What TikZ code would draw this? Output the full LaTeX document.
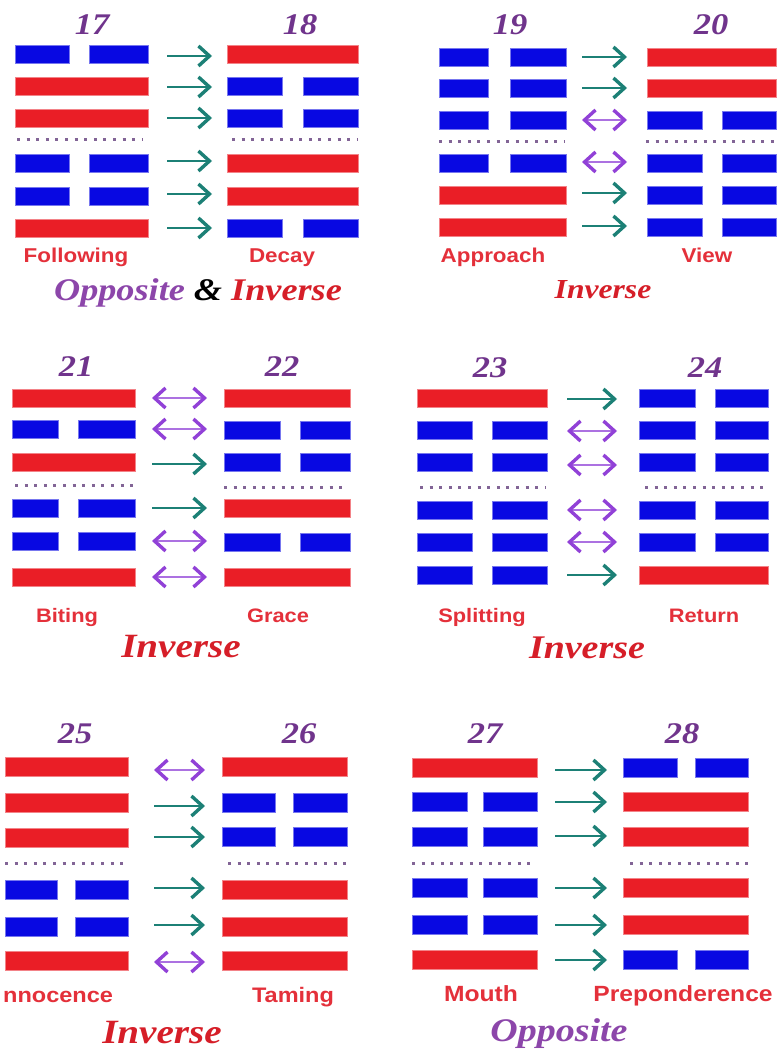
\documentclass[tikz,border=0pt]{standalone}
\usepackage{fontspec}
\setmainfont{Liberation Serif}
\newfontfamily\numfont[FakeStretch=1.15]{Liberation Serif}
\newfontfamily\lblfont[FakeStretch=1.12]{Liberation Sans}
\usetikzlibrary{arrows.meta}
\definecolor{redc}{RGB}{234,30,38}
\definecolor{bluec}{RGB}{8,8,226}
\definecolor{tealc}{RGB}{28,128,118}
\definecolor{purc}{RGB}{145,65,215}
\definecolor{numc}{RGB}{112,52,140}
\definecolor{oppc}{RGB}{140,70,170}
\definecolor{invc}{RGB}{214,30,40}
\definecolor{lblc}{RGB}{228,48,58}
\definecolor{dotc}{RGB}{130,100,150}
\tikzset{
  yangbar/.style={fill=redc, draw=redc!55!white, line width=0.8pt},
  yinbar/.style={fill=bluec, draw=bluec!55!white, line width=0.8pt},
  tarr/.style={draw=tealc, line width=2.8pt, -{Straight Barb[length=11pt,width=20pt,line width=3.4pt]}},
  parr/.style={draw=purc!75!white, line width=2.4pt, {Straight Barb[length=11pt,width=20pt,line width=3.4pt,color=purc]}-{Straight Barb[length=11pt,width=20pt,line width=3.4pt,color=purc]}},
  dotl/.style={draw=dotc, line width=3pt, dash pattern=on 3pt off 6.6pt},
  num/.style={font=\numfont\bfseries\itshape\fontsize{30}{36}\selectfont, text=numc, anchor=base, inner sep=0pt},
  lbl/.style={font=\lblfont\bfseries\fontsize{#1}{#1}\selectfont, text=lblc, anchor=base, inner sep=0pt},
  lbl/.default=20,
  ttl/.style={font=\numfont\bfseries\itshape\fontsize{#1}{#1}\selectfont, anchor=base, inner sep=0pt},
}
% #1 x-left, #2 gap-left, #3 gap-right, #4 x-right, #5 thickness, #6 list type/y
\newcommand\hexaG[6]{%
  \foreach \hk/\hy in {#6}{%
    \ifnum\hk=1
      \filldraw[yangbar] (#1,\hy-#5/2) rectangle (#4,\hy+#5/2);
    \else
      \filldraw[yinbar] (#1,\hy-#5/2) rectangle (#2,\hy+#5/2);
      \filldraw[yinbar] (#3,\hy-#5/2) rectangle (#4,\hy+#5/2);
    \fi}}
\newcommand\arrowsG[3]{%
  \foreach \hk/\hy in {#3}{%
    \ifnum\hk=1
      \draw[tarr] (#1,\hy) -- (#2,\hy);
    \else
      \draw[parr] (#1,\hy) -- (#2,\hy);
    \fi}}
\begin{document}
\begin{tikzpicture}[x=1pt,y=-1pt]
\useasboundingbox (0,0) rectangle (779,1051);
\fill[white] (0,0) rectangle (779,1051);

% ---------- Panel 1: 17 -> 18
\node[num] (n17) at (92,35) {17};
\node[num] (n18) at (300,35) {18};
\hexaG{15}{69}{89}{148}{18}{0/54,1/86,1/118,0/163,0/196,1/228}
\hexaG{227}{282}{303}{358}{18}{1/54,0/86,0/118,1/163,1/196,0/228}
\draw[dotl] (17,140) -- (143,140);
\draw[dotl] (232,140) -- (357,140);
\arrowsG{167}{212}{1/56,1/87,1/118,1/161,1/194,1/228}
\node[lbl=20] (l17) at (76,262) {Following};
\node[lbl=20] (l18) at (282,262) {Decay};
\node[ttl=31.5] (t1) at (198,300) {{\color{oppc}Opposite} {\color{black}\&} {\color{invc}Inverse}};

% ---------- Panel 2: 19 -> 20
\node[num] (n19) at (510,35) {19};
\node[num] (n20) at (711,35) {20};
\hexaG{439}{488}{510}{566}{18}{0/57,0/88,0/120,0/163,1/195,1/227}
\hexaG{647}{702}{722}{776}{18}{1/57,1/88,0/120,0/163,0/195,0/227}
\draw[dotl] (439,142) -- (565,142);
\draw[dotl] (646,142) -- (777,142);
\arrowsG{582}{627}{1/57,1/88,2/120,2/162,1/193,1/226}
\node[lbl=20] (l19) at (493,262) {Approach};
\node[lbl=20] (l20) at (707,262) {View};
\node[ttl=27.5, text=invc] (t2) at (603,298) {Inverse};

% ---------- Panel 3: 21 -> 22
\node[num] (n21) at (76,376) {21};
\node[num] (n22) at (282,376) {22};
\hexaG{12}{58}{78}{135}{18}{1/398,0/429,1/462,0/508,0/541,1/577}
\hexaG{224}{280}{300}{350}{18}{1/398,0/430,0/462,1/508,0/542,1/577}
\draw[dotl] (15,485) -- (135,485);
\draw[dotl] (224,487) -- (343,487);
\arrowsG{152}{207}{2/398,2/429,1/464,1/508,2/541,2/577}
\node[lbl=19.5] (l21) at (67,622) {Biting};
\node[lbl=19.5] (l22) at (278,622) {Grace};
\node[ttl=34, text=invc] (t3) at (181,657) {Inverse};

% ---------- Panel 4: 23 -> 24
\node[num] (n23) at (490,377) {23};
\node[num] (n24) at (705,377) {24};
\hexaG{417}{472}{492}{547}{18}{1/398,0/430,0/462,0/510,0/542,0/575}
\hexaG{639}{695}{715}{768}{18}{0/398,0/430,0/462,0/510,0/542,1/575}
\draw[dotl] (420,487) -- (545,487);
\draw[dotl] (645,487) -- (768,487);
\arrowsG{567}{617}{1/399,2/431,2/465,2/510,2/542,1/575}
\node[lbl=19.5] (l23) at (482,622) {Splitting};
\node[lbl=19.5] (l24) at (704,622) {Return};
\node[ttl=33, text=invc] (t4) at (587,658) {Inverse};

% ---------- Panel 5: 25 -> 26
\node[num] (n25) at (75,743) {25};
\node[num] (n26) at (299,743) {26};
\hexaG{5}{57}{75}{128}{19}{1/767,1/803,1/838,0/890,0/927,1/961}
\hexaG{222}{275}{293}{347}{19}{1/767,0/803,0/837,1/890,1/927,1/961}
\draw[dotl] (5,863) -- (128,863);
\draw[dotl] (228,863) -- (347,863);
\arrowsG{154}{205}{2/770,1/806,1/837,1/888,1/925,2/962}
\node[lbl=21, anchor=base west] (l25) at (3,1002) {nnocence};
\node[lbl=21] (l26) at (293,1002) {Taming};
\node[ttl=34, text=invc] (t5) at (162,1043) {Inverse};

% ---------- Panel 6: 27 -> 28
\node[num] (n27) at (485,743) {27};
\node[num] (n28) at (682,743) {28};
\hexaG{412}{467}{483}{537}{19}{1/768,0/802,0/837,0/888,0/925,1/960}
\hexaG{623}{677}{695}{748}{19}{0/768,1/802,1/837,1/888,1/925,0/960}
\draw[dotl] (412,863) -- (532,863);
\draw[dotl] (630,863) -- (748,863);
\arrowsG{555}{607}{1/770,1/802,1/836,1/888,1/925,1/960}
\node[lbl=22] (l27) at (481,1001) {Mouth};
\node[lbl=22] (l28) at (683,1001) {Preponderence};
\node[ttl=33, text=oppc] (t6) at (559,1041) {Opposite};
\end{tikzpicture}
\end{document}
